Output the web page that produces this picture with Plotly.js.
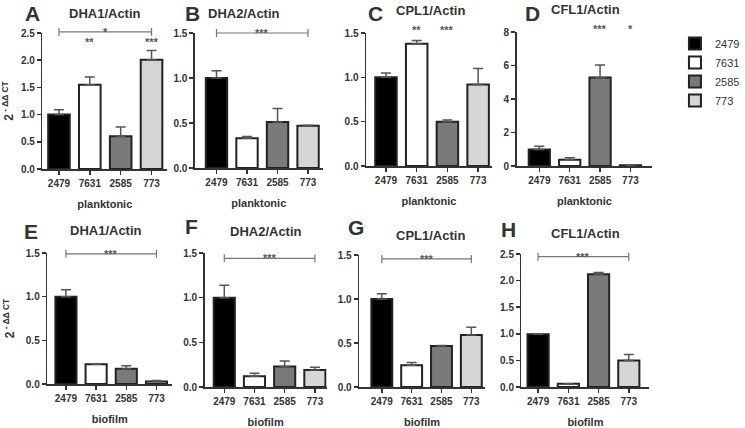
<!DOCTYPE html>
<html>
<head>
<meta charset="utf-8">
<script src="https://cdn.plot.ly/plotly-3.0.1.min.js"></script>
<style>html,body{margin:0;padding:0;background:#fff;}#chart{width:745px;height:428px;}</style>
</head>
<body>
<div id="chart"></div>
<script>
// ---- data ----
const strains = ['2479', '7631', '2585', '773'];
const strainColors = ['#000000', '#ffffff', '#7a7a7a', '#d6d6d6'];

const panelLetters = ['A', 'B', 'C', 'D', 'E', 'F', 'G', 'H'];
const panelTitles = ['DHA1/Actin', 'DHA2/Actin', 'CPL1/Actin', 'CFL1/Actin',
                     'DHA1/Actin', 'DHA2/Actin', 'CPL1/Actin', 'CFL1/Actin'];
const panelGroups = ['planktonic', 'planktonic', 'planktonic', 'planktonic',
                     'biofilm', 'biofilm', 'biofilm', 'biofilm'];
const yAxisLabel = '2<sup> - ΔΔ CT</sup>';

// planktonic
const dha1Plank = [1.0, 1.55, 0.60, 2.01];
const dha1PlankErr = [0.09, 0.14, 0.17, 0.17];
const dha2Plank = [1.0, 0.33, 0.51, 0.47];
const dha2PlankErr = [0.08, 0.02, 0.15, 0.005];
const cpl1Plank = [1.0, 1.38, 0.50, 0.92];
const cpl1PlankErr = [0.05, 0.035, 0.02, 0.18];
const cfl1Plank = [0.98, 0.37, 5.28, 0.05];
const cfl1PlankErr = [0.20, 0.12, 0.75, 0.02];
// biofilm
const dha1Bio = [1.0, 0.225, 0.175, 0.03];
const dha1BioErr = [0.08, 0.005, 0.035, 0.01];
const dha2Bio = [1.0, 0.12, 0.23, 0.19];
const dha2BioErr = [0.14, 0.035, 0.06, 0.03];
const cpl1Bio = [1.0, 0.247, 0.467, 0.59];
const cpl1BioErr = [0.06, 0.03, 0.005, 0.09];
const cfl1Bio = [0.99, 0.06, 2.12, 0.50];
const cfl1BioErr = [0.01, 0.0, 0.03, 0.11];

const panelValues = [dha1Plank, dha2Plank, cpl1Plank, cfl1Plank, dha1Bio, dha2Bio, cpl1Bio, cfl1Bio];
const panelErrors = [dha1PlankErr, dha2PlankErr, cpl1PlankErr, cfl1PlankErr, dha1BioErr, dha2BioErr, cpl1BioErr, cfl1BioErr];

// significance: bracket 2479 -> 773
const bracketLabels = ['*', '***', '', '', '***', '***', '***', '***'];
const bracketLevels = [2.52, 1.5, null, null, 1.49, 1.44, 1.455, 2.45];
// stars above individual bars (vs 2479)
const barStars = [
  ['', '**', '', '***'],
  ['', '', '', ''],
  ['', '**', '***', ''],
  ['', '', '***', '*'],
  ['', '', '', ''],
  ['', '', '', ''],
  ['', '', '', ''],
  ['', '', '', '']
];
const barStarLevels = [2.33, null, 1.53, 8.2, null, null, null, null];

// ---- layout geometry (pixels) ----
const W = 745, H = 428;
const geo = [
  {xd: [43, 170], yd: [33, 169], xr: [-0.54, 3.51], yr: [0, 2.5], dt: 0.5, fmt: '.1f', lx: 33, ly: 14, tx: 107, ty: 13},
  {xd: [198, 328], yd: [33, 168], xr: [-0.71, 3.48], yr: [0, 1.5], dt: 0.5, fmt: '.1f', lx: 196, ly: 14, tx: 248, ty: 13},
  {xd: [372, 500], yd: [33, 166], xr: [-0.65, 3.45], yr: [0, 1.5], dt: 0.5, fmt: '.1f', lx: 382, ly: 14, tx: 438, ty: 11},
  {xd: [525, 663], yd: [32, 166], xr: [-0.75, 3.72], yr: [0, 8], dt: 2, fmt: 'd', lx: 541, ly: 14, tx: 595, ty: 10},
  {xd: [48, 175], yd: [253, 384], xr: [-0.62, 3.52], yr: [0, 1.5], dt: 0.5, fmt: '.1f', lx: 31, ly: 231, tx: 108, ty: 230},
  {xd: [208, 332], yd: [253, 387], xr: [-0.65, 3.39], yr: [0, 1.5], dt: 0.5, fmt: '.1f', lx: 195, ly: 226, tx: 270, ty: 232},
  {xd: [365, 493], yd: [255, 387], xr: [-0.76, 3.46], yr: [0, 1.5], dt: 0.5, fmt: '.1f', lx: 362, ly: 228, tx: 438, ty: 236},
  {xd: [530, 660], yd: [254, 387], xr: [-0.55, 3.68], yr: [0, 2.5], dt: 0.5, fmt: '.1f', lx: 517, ly: 229, tx: 595, ty: 233}
];

const FONT = 'Liberation Sans, Arial, sans-serif';
const INK = '#333333';

const traces = [];
const layout = {
  width: W, height: H,
  margin: {l: 0, r: 0, t: 0, b: 0},
  paper_bgcolor: '#ffffff', plot_bgcolor: 'rgba(0,0,0,0)',
  barmode: 'overlay', bargap: 0.3,
  showlegend: true,
  legend: {x: 686 / W, y: 1 - 29 / H, xanchor: 'left', yanchor: 'top', tracegroupgap: 0,
           font: {family: FONT, size: 11, color: INK}, bgcolor: 'rgba(0,0,0,0)'},
  annotations: [], shapes: [],
  font: {family: FONT, color: INK}
};

geo.forEach((g, i) => {
  const ax = i === 0 ? '' : String(i + 1);
  const xa = 'x' + ax, ya = 'y' + ax;
  // fractions within the subplot, through the axis ranges
  const xFrac = k => (k - g.xr[0]) / (g.xr[1] - g.xr[0]);
  const yFrac = v => (v - g.yr[0]) / (g.yr[1] - g.yr[0]);
  strains.forEach((s, j) => {
    traces.push({
      type: 'bar', x: [s], y: [panelValues[i][j]], xaxis: xa, yaxis: ya,
      name: s, legendgroup: s, showlegend: i === 0,
      marker: {color: strainColors[j], line: {color: '#222222', width: 2}},
      error_y: {type: 'data', symmetric: false, array: [panelErrors[i][j]], arrayminus: [0],
                color: '#555555', thickness: 1.5, width: 5},
      cliponaxis: false, hoverinfo: 'x+y'
    });
  });
  layout['xaxis' + ax] = {
    domain: [g.xd[0] / W, g.xd[1] / W], anchor: ya, range: g.xr,
    type: 'category', categoryorder: 'array', categoryarray: strains,
    showline: true, linecolor: INK, linewidth: 1.5,
    ticks: 'outside', ticklen: 4, tickwidth: 1.5, tickcolor: INK,
    showgrid: false, zeroline: false, fixedrange: true,
    tickfont: {family: FONT, size: 10, color: INK, weight: 'bold'},
    title: {text: panelGroups[i], standoff: 13, font: {family: FONT, size: 11, color: INK, weight: 'bold'}}
  };
  const yax = {
    domain: [1 - g.yd[1] / H, 1 - g.yd[0] / H], anchor: xa, range: g.yr,
    dtick: g.dt, tick0: 0, tickformat: g.fmt,
    showline: true, linecolor: INK, linewidth: 1.5,
    ticks: 'outside', ticklen: 4, tickwidth: 1.5, tickcolor: INK,
    showgrid: false, zeroline: false, fixedrange: true,
    tickfont: {family: FONT, size: 10, color: INK, weight: 'bold'}
  };
  if (i === 0 || i === 4) {
    yax.title = {text: yAxisLabel, standoff: 8, font: {family: FONT, size: 12, color: INK, weight: 'bold'}};
  }
  layout['yaxis' + ax] = yax;
  // panel letter
  layout.annotations.push({text: panelLetters[i], xref: 'paper', yref: 'paper',
    x: g.lx / W, y: 1 - g.ly / H, xanchor: 'center', yanchor: 'middle', showarrow: false,
    font: {family: FONT, size: 21, color: INK, weight: 'bold'}});
  // panel title
  layout.annotations.push({text: panelTitles[i], xref: 'paper', yref: 'paper',
    x: g.tx / W, y: 1 - g.ty / H, xanchor: 'center', yanchor: 'middle', showarrow: false,
    font: {family: FONT, size: 13, color: INK, weight: 'bold'}});
  const xdr = xa + ' domain', ydr = ya + ' domain';
  // bracket
  if (bracketLevels[i] !== null) {
    const lv = yFrac(bracketLevels[i]);
    const lineStyle = {color: '#777777', width: 1.2};
    layout.shapes.push({type: 'line', xref: xdr, yref: ydr, x0: xFrac(0), x1: xFrac(3), y0: lv, y1: lv, line: lineStyle});
    [0, 3].forEach(k => layout.shapes.push({type: 'line', xref: xdr, yref: ydr, x0: xFrac(k), x1: xFrac(k),
      ysizemode: 'pixel', yanchor: lv, y0: -4, y1: 4, line: lineStyle}));
    layout.annotations.push({text: bracketLabels[i], xref: xdr, yref: ydr, x: xFrac(1.5), y: lv,
      xanchor: 'center', yanchor: 'middle', showarrow: false,
      font: {family: FONT, size: 11, color: '#555555', weight: 'bold'}});
  }
  // stars above bars
  if (barStarLevels[i] !== null) {
    barStars[i].forEach((st, j) => {
      if (!st) return;
      layout.annotations.push({text: st, xref: xdr, yref: ydr, x: xFrac(j), y: yFrac(barStarLevels[i]),
        xanchor: 'center', yanchor: 'middle', showarrow: false,
        font: {family: FONT, size: 11, color: '#555555', weight: 'bold'}});
    });
  }
});

Plotly.newPlot('chart', traces, layout, {displayModeBar: false, staticPlot: true});
</script>
</body>
</html>
